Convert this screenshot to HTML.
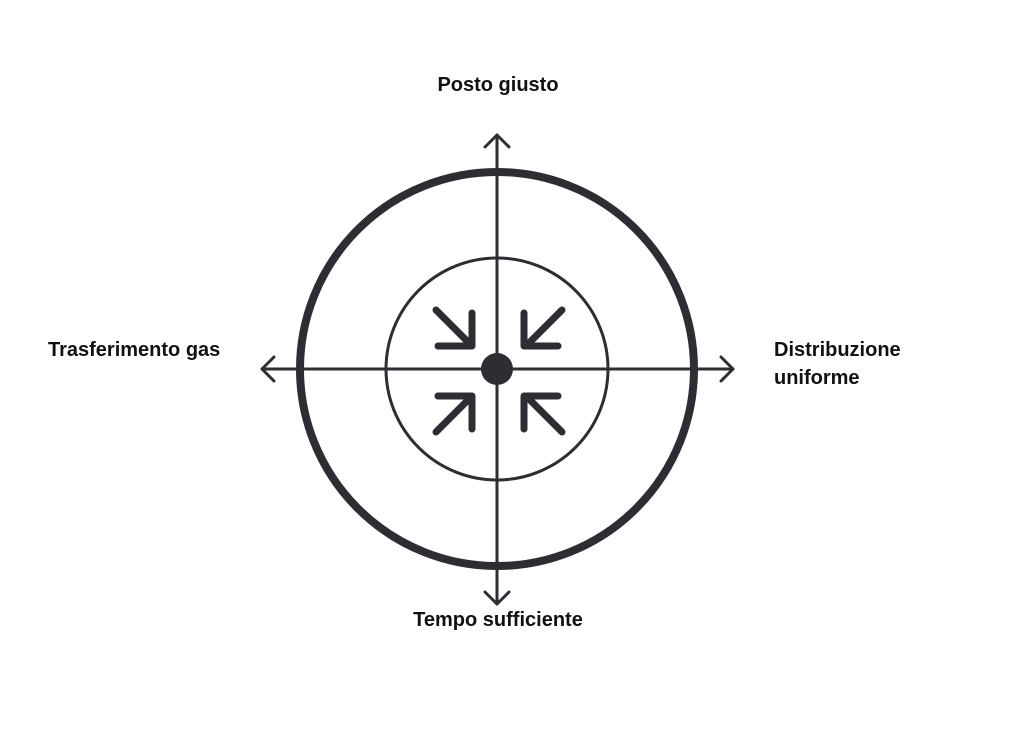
<!DOCTYPE html>
<html><head><meta charset="utf-8"><style>
html,body{margin:0;padding:0;background:#fff;width:1024px;height:747px;overflow:hidden}
text{font-family:"Liberation Sans",sans-serif;font-weight:bold;font-size:20px;fill:#111}
</style></head><body>
<svg width="1024" height="747" viewBox="0 0 1024 747" xmlns="http://www.w3.org/2000/svg">
<g fill="none" stroke="#2d2e33" stroke-linecap="round" stroke-linejoin="round">
<circle cx="497" cy="369" r="197" stroke-width="8"/>
<circle cx="497" cy="369" r="111" stroke-width="3"/>
<line x1="497" y1="135" x2="497" y2="604" stroke-width="3"/>
<line x1="262" y1="369" x2="733" y2="369" stroke-width="3"/>
<polyline points="485,147 497,135 509,147" stroke-width="3"/>
<polyline points="485,592 497,604 509,592" stroke-width="3"/>
<polyline points="274,357 262,369 274,381" stroke-width="3"/>
<polyline points="721,357 733,369 721,381" stroke-width="3"/>
<g stroke-width="7">
<path d="M436,310 L470,344 M472,313 L472,346 L438,346"/>
<path d="M562,310 L528,344 M524,313 L524,346 L558,346"/>
<path d="M436,432 L470,398 M472,429 L472,396 L438,396"/>
<path d="M562,432 L528,398 M524,429 L524,396 L558,396"/>
</g>
</g>
<circle cx="497" cy="369" r="16" fill="#2d2e33"/>
<text x="498" y="91" text-anchor="middle">Posto giusto</text>
<text x="498" y="626" text-anchor="middle">Tempo sufficiente</text>
<text x="48" y="356">Trasferimento gas</text>
<text x="774" y="356">Distribuzione</text>
<text x="774" y="384">uniforme</text>
</svg>
</body></html>
